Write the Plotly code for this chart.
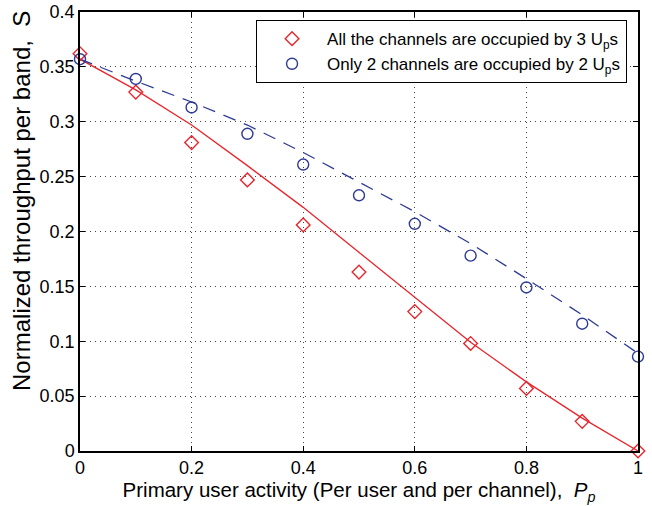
import plotly.graph_objects as go

pp = [0.0, 0.1, 0.2, 0.3, 0.4, 0.5, 0.6, 0.7, 0.8, 0.9, 1.0]

sim_all3 = [0.362, 0.327, 0.281, 0.247, 0.206, 0.163, 0.127, 0.098, 0.057, 0.027, 0.0]
ana_all3 = [0.357, 0.329, 0.297, 0.260, 0.222, 0.181, 0.140, 0.099, 0.063, 0.030, 0.0]
sim_only2 = [0.357, 0.339, 0.313, 0.289, 0.261, 0.233, 0.207, 0.178, 0.149, 0.116, 0.086]
ana_only2 = [0.357, 0.337, 0.318, 0.297, 0.272, 0.245, 0.218, 0.189, 0.157, 0.124, 0.089]

x_ticks = [0, 0.2, 0.4, 0.6, 0.8, 1]
x_labels = ["0", "0.2", "0.4", "0.6", "0.8", "1"]
y_ticks = [0, 0.05, 0.1, 0.15, 0.2, 0.25, 0.3, 0.35, 0.4]
y_labels = ["0", "0.05", "0.1", "0.15", "0.2", "0.25", "0.3", "0.35", "0.4"]

RED = "#e8262d"
BLUE = "#2e3a93"

fig = go.Figure()
fig.add_trace(go.Scatter(x=pp, y=ana_all3, mode="lines", line=dict(color=RED, width=1.3),
                         showlegend=False, cliponaxis=False))
fig.add_trace(go.Scatter(x=pp, y=ana_only2, mode="lines", line=dict(color=BLUE, width=1.3, dash="13px,9px"),
                         showlegend=False, cliponaxis=False))
fig.add_trace(go.Scatter(x=pp, y=sim_all3, mode="markers",
                         marker=dict(symbol="diamond-open", size=10.5, color=RED, line=dict(width=1.4)),
                         name="All the channels are occupied by 3 U<sub>p</sub>s", cliponaxis=False))
fig.add_trace(go.Scatter(x=pp, y=sim_only2, mode="markers",
                         marker=dict(symbol="circle-open", size=11, color=BLUE, line=dict(width=1.4)),
                         name="Only 2 channels are occupied by 2 U<sub>p</sub>s", cliponaxis=False))

axis_common = dict(showline=True, linecolor="black", linewidth=1.5, mirror="ticks",
                   ticks="inside", ticklen=5, tickcolor="black", automargin=False,
                   showgrid=True, gridcolor="#444444", griddash="1px,4px", gridwidth=1,
                   zeroline=False, tickfont=dict(size=18, color="black"))

fig.update_xaxes(range=[0, 1], tickvals=x_ticks, ticktext=x_labels,
                 title=dict(text="Primary user activity (Per user and per channel),  <i>P</i><sub><i>p</i></sub>",
                            font=dict(size=20.5, color="black"), standoff=2),
                 **axis_common)
fig.update_yaxes(range=[0, 0.4], tickvals=y_ticks, ticktext=y_labels, **axis_common)

fig.add_annotation(text="Normalized throughput per band,  S", textangle=-90,
                   xref="paper", yref="paper", x=-0.104, y=0.5695,
                   xanchor="center", yanchor="middle", showarrow=False,
                   font=dict(size=24, color="black"))

fig.update_layout(
    width=652, height=506,
    margin=dict(l=80, r=14, t=12, b=55, autoexpand=False),
    paper_bgcolor="white", plot_bgcolor="white",
    font=dict(family="Liberation Sans, Arial, sans-serif", color="black"),
    legend=dict(x=0.980, y=0.982, xanchor="right", yanchor="top",
                bgcolor="white", bordercolor="black", borderwidth=1.2,
                font=dict(size=17, color="black"), itemwidth=60, tracegroupgap=2),
)

fig.write_html("out.html", config={"displayModeBar": False},
               post_script="document.body.style.margin='0';")
